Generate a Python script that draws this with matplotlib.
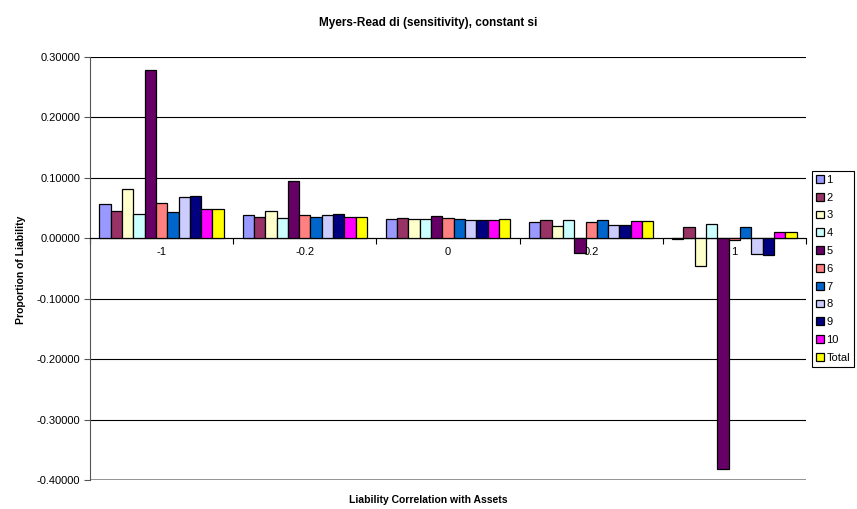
import numpy as np
import matplotlib.pyplot as plt

plt.rcParams['font.family'] = ['Liberation Sans', 'DejaVu Sans']

# Correlacao do passivo com os ativos (categorias do eixo x)
categorias = ['-1', '-0.2', '0', '0.2', '1']
series = ['1', '2', '3', '4', '5', '6', '7', '8', '9', '10', 'Total']

# Sensibilidade di por linha de negocio, uma lista por categoria
valores_m1 = [0.056, 0.045, 0.0815, 0.041, 0.279, 0.058, 0.044, 0.068, 0.070, 0.049, 0.049]
valores_m02 = [0.038, 0.036, 0.0445, 0.034, 0.0947, 0.039, 0.035, 0.039, 0.040, 0.036, 0.036]
valores_0 = [0.0325, 0.033, 0.032, 0.032, 0.0375, 0.033, 0.032, 0.030, 0.031, 0.031, 0.0325]
valores_02 = [0.027, 0.030, 0.020, 0.030, -0.025, 0.0275, 0.030, 0.0215, 0.022, 0.028, 0.0287]
valores_1 = [-0.001, 0.0187, -0.046, 0.024, -0.381, -0.003, 0.019, -0.026, -0.028, 0.0105, 0.0105]

cores = ['#9999FF', '#993366', '#FFFFCC', '#CCFFFF', '#660066', '#FF8080',
         '#0066CC', '#CCCCFF', '#000080', '#FF00FF', '#FFFF00']

tabela = np.array([valores_m1, valores_m02, valores_0, valores_02, valores_1])

fig = plt.figure(figsize=(8.57, 5.09), dpi=100)
ax = fig.add_axes([0.105, 0.057, 0.8355, 0.831])

x = np.arange(len(categorias))
largura = 0.079
n = len(series)
for i, nome in enumerate(series):
    desloc = (i - (n - 1) / 2) * largura
    ax.bar(x + desloc, tabela[:, i], largura, color=cores[i], edgecolor='black',
           linewidth=0.9, label=nome, zorder=3)

ax.set_xlim(-0.5, len(categorias) - 0.5)
ax.set_ylim(-0.4, 0.3)
marcas = np.round(np.arange(-0.4, 0.31, 0.1), 2) + 0.0
ax.set_yticks(marcas)
ax.set_yticklabels([f'{v:.5f}' for v in marcas], fontsize=8)
ax.yaxis.grid(True, color='black', linewidth=0.8)
ax.get_ygridlines()[0].set_color('#808080')
ax.get_ygridlines()[0].set_linewidth(1.2)
ax.set_axisbelow(True)
ax.tick_params(axis='y', length=4, width=0.8, color='#555555', pad=3)

# eixo das categorias passando pelo zero
ax.spines['bottom'].set_position(('data', 0))
ax.spines['top'].set_visible(False)
ax.spines['right'].set_visible(False)
ax.spines['left'].set_color('#555555')
ax.set_xticks(x)
ax.set_xticklabels(categorias, fontsize=8)
ax.set_xticks(np.arange(-0.5, len(categorias), 1), minor=True)
ax.tick_params(axis='x', which='major', length=0, pad=6)
ax.tick_params(axis='x', which='minor', length=4, width=0.8)

fig.text(0.5, 0.955, 'Myers-Read di (sensitivity), constant si', ha='center',
         va='center', fontsize=8.5, fontweight='bold')
fig.text(0.5, 0.018, 'Liability Correlation with Assets', ha='center',
         va='center', fontsize=7.5, fontweight='bold')
fig.text(0.025, 0.47, 'Proportion of Liability', ha='center', va='center',
         rotation=90, fontsize=7.5, fontweight='bold')

leg = fig.legend(loc='upper left', bbox_to_anchor=(0.948, 0.664), fontsize=8,
                 handlelength=0.7, handleheight=0.7, handletextpad=0.2,
                 labelspacing=0.7, borderpad=0.35, borderaxespad=0,
                 fancybox=False, framealpha=1, edgecolor='black')
leg.get_frame().set_linewidth(0.8)

plt.savefig('out.png', dpi=100)
